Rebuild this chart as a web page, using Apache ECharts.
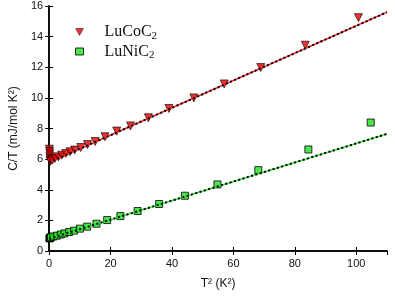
<!DOCTYPE html>
<html><head><meta charset="utf-8">
<script src="https://cdn.jsdelivr.net/npm/echarts@6/dist/echarts.min.js"></script>
<style>html,body{margin:0;padding:0;background:#fff}#c{width:395px;height:297px}</style>
</head><body><div id="c"></div>
<script>
// LuCoC2 data: [T^2, C/T]
const coT2 = [0.1, 0.15, 0.2, 0.25, 0.3, 0.35, 0.4, 1.1, 1.9, 3.0, 4.1, 5.4, 6.8, 8.3, 10.3, 12.5, 15.0, 18.2, 22.0, 26.5, 32.3, 39.0, 47.1, 57.0, 68.9, 83.4, 100.7];
const coCT = [6.65, 6.5, 6.35, 6.2, 6.05, 5.95, 5.85, 5.94, 6.05, 6.15, 6.26, 6.37, 6.48, 6.59, 6.76, 6.95, 7.15, 7.46, 7.83, 8.17, 8.70, 9.31, 10.0, 10.91, 11.98, 13.44, 15.24];
// LuNiC2 data
const niT2 = [0.1, 0.2, 0.3, 0.4, 0.6, 1.4, 2.5, 3.8, 5.0, 6.5, 8.1, 10.0, 12.4, 15.4, 18.9, 23.2, 28.8, 35.8, 44.2, 54.8, 68.1, 84.4, 104.7];
const niCT = [0.82, 0.85, 0.86, 0.88, 0.9, 0.95, 1.0, 1.08, 1.15, 1.24, 1.33, 1.46, 1.59, 1.78, 2.02, 2.28, 2.61, 3.07, 3.61, 4.35, 5.28, 6.63, 8.39];
// linear fits: endpoints [T^2, C/T]
const coFitX = [0, 110], coFitY = [5.78, 15.6];
const niFitX = [0, 110], niFitY = [0.8, 7.65];

const zip = (a, b) => a.map((v, i) => [v, b[i]]);
const axisLine = {show: true, lineStyle: {color: '#000', width: 1.5}};
const tick = {show: true, inside: true, length: 4, lineStyle: {color: '#000', width: 1}};
const lbl = {color: '#111', fontFamily: 'Liberation Sans, Arial, sans-serif', fontSize: 11};
const chart = echarts.init(document.getElementById('c'), null, {renderer: 'canvas'});
chart.setOption({
  animation: false,
  grid: {left: 46, right: 8, top: 6, bottom: 46},
  legend: {
    orient: 'vertical', left: 70, top: 19, itemGap: 2, itemWidth: 8, itemHeight: 7,
    textStyle: {fontFamily: 'Liberation Serif, Times New Roman, serif', fontSize: 16, color: '#111', padding: [0, 0, 0, 16],
      rich: {b: {fontFamily: 'Liberation Serif, serif', fontSize: 16, color: '#111'},
             s: {fontFamily: 'Liberation Serif, serif', fontSize: 11, color: '#111', padding: [8, 0, 0, 0]}}},
    formatter: n => '{b|' + n.slice(0, -1) + '}{s|2}',
    data: [
      {name: 'LuCoC2', icon: 'path://M0,0L10,0L5,9Z', itemStyle: {color: '#e80000', borderColor: '#000', borderWidth: 0.6}},
      {name: 'LuNiC2', icon: 'rect', itemStyle: {color: '#22e022', borderColor: '#000', borderWidth: 1}}
    ]
  },
  xAxis: [
    {type: 'value', min: 0, max: 110, interval: 20, axisLine, axisTick: tick, splitLine: {show: false},
     axisLabel: Object.assign({margin: 7, showMaxLabel: false}, lbl),
     name: 'T² (K²)', nameLocation: 'middle', nameGap: 27,
     nameTextStyle: {fontFamily: 'Liberation Sans, Arial, sans-serif', fontSize: 12, color: '#111'}},
    {type: 'value', position: 'top', min: 0, max: 110, interval: 20, axisLine, axisTick: tick, axisLabel: {show: false}, splitLine: {show: false}}
  ],
  yAxis: [
    {type: 'value', min: 0, max: 16, interval: 2, axisLine, axisTick: tick, splitLine: {show: false},
     axisLabel: Object.assign({margin: 6}, lbl),
     name: 'C/T (mJ/mol K²)', nameLocation: 'middle', nameGap: 28,
     nameTextStyle: {fontFamily: 'Liberation Sans, Arial, sans-serif', fontSize: 12, color: '#111'}},
    {type: 'value', position: 'right', min: 0, max: 16, interval: 2, axisLine, axisTick: tick, axisLabel: {show: false}, splitLine: {show: false}}
  ],
  series: [
    {name: 'LuCoC2', type: 'scatter', data: zip(coT2, coCT), symbol: 'triangle', symbolRotate: 180, symbolSize: 8,
     itemStyle: {color: '#e80000', borderColor: '#000', borderWidth: 0.8}, z: 3},
    {name: 'LuNiC2', type: 'scatter', data: zip(niT2, niCT), symbol: 'rect', symbolSize: 7,
     itemStyle: {color: '#22e022', borderColor: '#000', borderWidth: 1}, z: 3},
    {name: 'coFit', type: 'line', data: zip(coFitX, coFitY), showSymbol: false, lineStyle: {color: '#ff2020', width: 1.5}, z: 4, silent: true},
    {name: 'coFitDot', type: 'line', data: zip(coFitX, coFitY), showSymbol: false, lineStyle: {color: '#000', width: 2, type: [2, 2.5]}, z: 5, silent: true},
    {name: 'niFit', type: 'line', data: zip(niFitX, niFitY), showSymbol: false, lineStyle: {color: '#22e022', width: 1.5}, z: 4, silent: true},
    {name: 'niFitDot', type: 'line', data: zip(niFitX, niFitY), showSymbol: false, lineStyle: {color: '#000', width: 2, type: [2, 2.5]}, z: 5, silent: true}
  ]
});
</script></body></html>
